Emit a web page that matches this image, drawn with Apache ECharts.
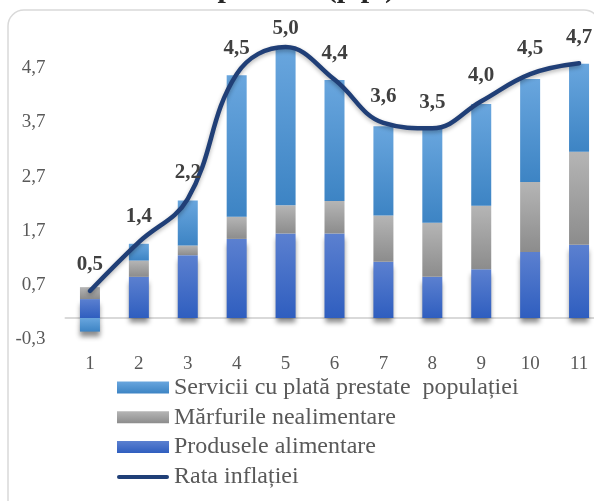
<!DOCTYPE html>
<html>
<head>
<meta charset="utf-8">
<script src="https://cdn.jsdelivr.net/npm/echarts@6/dist/echarts.min.js"></script>
<style>
html,body{margin:0;padding:0;background:#fff;}
#c{width:594px;height:501px;}
</style>
</head>
<body>
<div id="c"></div>
<script>
const categories = ['1','2','3','4','5','6','7','8','9','10','11'];
const produseleAlimentare = [0.35, 0.76, 1.16, 1.46, 1.56, 1.56, 1.04, 0.76, 0.90, 1.22, 1.35];
const marfurileNealimentare = [0.22, 0.30, 0.18, 0.41, 0.52, 0.60, 0.85, 1.00, 1.17, 1.29, 1.72];
const serviciiCuPlata = [-0.25, 0.31, 0.83, 2.61, 2.90, 2.23, 1.65, 1.75, 1.88, 1.90, 1.62];
const rataInflatiei = [0.5, 1.4, 2.2, 4.5, 5.0, 4.4, 3.6, 3.5, 4.0, 4.5, 4.7];
const yTickLabels = [-0.3, 0.7, 1.7, 2.7, 3.7, 4.7];

const seriesNames = ['Servicii cu plată prestate  populației', 'Mărfurile nealimentare', 'Produsele alimentare', 'Rata inflației'];

const FONT = '"Liberation Serif", "Times New Roman", serif';
function grad(top, bottom) {
  return new echarts.graphic.LinearGradient(0, 0, 0, 1, [
    {offset: 0, color: top}, {offset: 1, color: bottom}
  ]);
}
const fmt = v => Number(v).toFixed(1).replace('.', ',');

const servData = serviciiCuPlata.map(v => v < 0 ? {
  value: v,
  itemStyle: {shadowColor: 'rgba(0,0,0,0.45)', shadowBlur: 5, shadowOffsetY: 5}
} : v);

// the peak label sits closer to the line (constrained by the plot top in the original)
const peak = Math.max(...rataInflatiei);
const lineData = rataInflatiei.map(v => v === peak ? {value: v, label: {distance: 7}} : v);

const LINE_COLOR = '#203f77';

const chart = echarts.init(document.getElementById('c'), null, {renderer: 'canvas'});
chart.setOption({
  backgroundColor: '#ffffff',
  animation: false,
  graphic: [
    {type: 'rect', shape: {x: 8, y: 10, width: 592, height: 530, r: 16},
     style: {fill: 'none', stroke: '#d9d9d9', lineWidth: 1.5}, z: -1},
    {type: 'text', x: 395, y: 4,
     style: {text: 'componente (p.p.)', font: 'bold 30px ' + FONT, fill: '#262626',
             align: 'right', verticalAlign: 'bottom'}}
  ],
  grid: {left: 65.5, right: -9.5, top: 36.2, bottom: 166.7, containLabel: false, outerBoundsMode: 'none'},
  legend: {
    orient: 'vertical', left: 112, top: 370.5,
    itemWidth: 52, itemHeight: 12, itemGap: 5.8,
    textStyle: {fontFamily: FONT, fontSize: 24, color: '#595959', lineHeight: 24},
    data: [
      {name: seriesNames[0], icon: 'rect'},
      {name: seriesNames[1], icon: 'rect'},
      {name: seriesNames[2], icon: 'rect'},
      {name: seriesNames[3], icon: 'path://M2,0 H50 A2,2 0 0 1 50,4 H2 A2,2 0 0 1 2,0 Z'}
    ]
  },
  xAxis: {
    type: 'category', data: categories,
    axisLine: {onZero: true, lineStyle: {color: '#d9d9d9', width: 2}},
    axisTick: {show: false},
    axisLabel: {fontFamily: FONT, fontSize: 19, color: '#595959', margin: 20}
  },
  yAxis: {
    type: 'value', min: -0.3, max: 5.2,
    splitLine: {show: false}, axisLine: {show: false}, axisTick: {show: false},
    axisLabel: {customValues: yTickLabels, fontFamily: FONT, fontSize: 19, color: '#595959', margin: 20,
                verticalAlign: 'top', lineHeight: 10, formatter: v => fmt(v)}
  },
  series: [
    {name: seriesNames[2], type: 'bar', stack: 's', barWidth: 20, data: produseleAlimentare,
     itemStyle: {color: grad('#5b80d0', '#2f5ebf'), shadowColor: 'rgba(0,0,0,0.45)', shadowBlur: 5, shadowOffsetY: 5}},
    {name: seriesNames[1], type: 'bar', stack: 's', barWidth: 20, data: marfurileNealimentare,
     itemStyle: {color: grad('#b5b5b5', '#8c8c8c')}},
    {name: seriesNames[0], type: 'bar', stack: 's', barWidth: 20, data: servData,
     itemStyle: {color: grad('#69a6de', '#3d84c4')}},
    {name: seriesNames[3], type: 'line', data: lineData, smooth: 0.4,
     symbol: 'circle', symbolSize: 1, showSymbol: true,
     lineStyle: {color: LINE_COLOR, width: 4.5, cap: 'round', shadowColor: 'rgba(0,0,0,0.3)', shadowBlur: 4, shadowOffsetY: 2},
     itemStyle: {color: LINE_COLOR},
     label: {show: true, position: 'top', distance: 15, fontFamily: FONT, fontSize: 21, fontWeight: 'bold',
             color: '#404040', formatter: p => fmt(p.value)},
     labelLayout: {hideOverlap: false},
     z: 5}
  ]
});
</script>
</body>
</html>
